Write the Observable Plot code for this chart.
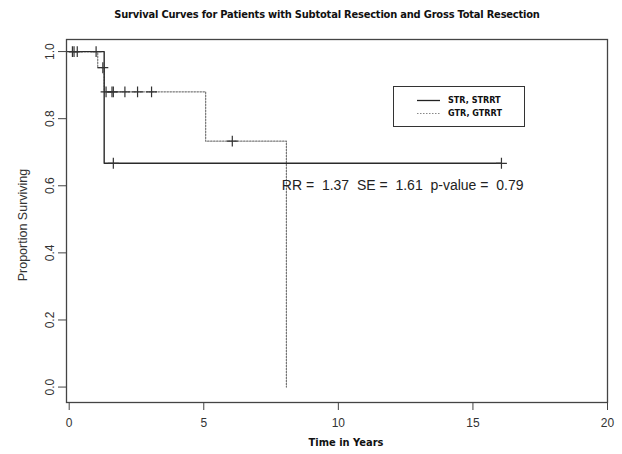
<!DOCTYPE html>
<html>
<head>
<meta charset="utf-8">
<script src="https://cdn.jsdelivr.net/npm/d3@7"></script>
<script src="https://cdn.jsdelivr.net/npm/@observablehq/plot@0.6"></script>
<style>
  html, body { margin: 0; padding: 0; background: #fff; }
  #wrap { position: relative; width: 622px; height: 454px; overflow: hidden; }
  #title { height: 28px; line-height: 30px; font-family: "Liberation Sans Narrow", "DejaVu Sans Condensed", sans-serif; font-weight: bold; font-size: 11px; letter-spacing: -0.2px; color: #111; text-align: center; padding-left: 32px; box-sizing: border-box; white-space: nowrap; }
  #legend { position: absolute; left: 393px; top: 86px; width: 132px; height: 41px; border: 1.3px solid #333; box-sizing: border-box; background: #fff; }
  #legend svg { position: absolute; left: 0; top: 0; }
  #legend .lab { position: absolute; left: 54px; font-family: "Liberation Sans Narrow", "DejaVu Sans Condensed", sans-serif; font-weight: bold; font-size: 9px; color: #111; white-space: nowrap; }
</style>
</head>
<body>
<div id="wrap">
  <div id="title">Survival Curves for Patients with Subtotal Resection and Gross Total Resection</div>
  <div id="chart"></div>
  <div id="legend">
    <svg width="132" height="41">
      <line x1="23" x2="46" y1="13.5" y2="13.5" stroke="#222" stroke-width="1.3"></line>
      <line x1="23" x2="46" y1="26.5" y2="26.5" stroke="#888" stroke-width="1.2" stroke-dasharray="1.5,1.5"></line>
    </svg>
    <div class="lab" style="top:8px">STR, STRRT</div>
    <div class="lab" style="top:21px">GTR, GTRRT</div>
  </div>
</div>
<script>
// Kaplan-Meier step curves (time in years, proportion surviving)
const strTimes = [0, 1.3, 16.06];
const strSurv  = [1.0, 0.667, 0.667];
const gtrTimes = [0, 1.06, 1.3, 5.07, 8.07];
const gtrSurv  = [1.0, 0.952, 0.88, 0.733, 0.0];

// censoring marks ("+")
const strCensorTimes = [0.3, 1.0, 1.64, 16.06];
const strCensorSurv  = [1.0, 1.0, 0.667, 0.667];
const gtrCensorTimes = [0.12, 0.18, 1.25, 1.37, 1.59, 1.64, 2.07, 2.54, 3.06, 6.06];
const gtrCensorSurv  = [1.0, 1.0, 0.952, 0.88, 0.88, 0.88, 0.88, 0.88, 0.88, 0.733];

const xTicks = [0, 5, 10, 15, 20];
const yTicks = [0.0, 0.2, 0.4, 0.6, 0.8, 1.0];
const annotationText = "RR =  1.37  SE =  1.61  p-value =  0.79";
const annotationAt = [{t: 7.9, s: 0.6}];

const toRows = (ts, ss) => ts.map((t, i) => ({t, s: ss[i]}));
const strRows = toRows(strTimes, strSurv);
const gtrRows = toRows(gtrTimes, gtrSurv);
const strCens = toRows(strCensorTimes, strCensorSurv);
const gtrCens = toRows(gtrCensorTimes, gtrCensorSurv);

const ink = "#333";
const font = "'Liberation Sans', Arial, sans-serif";

const chart = Plot.plot({
  width: 622,
  height: 426,
  marginTop: 11,
  marginBottom: 52,
  marginLeft: 66,
  marginRight: 15,
  style: {fontFamily: font, fontSize: "12px", color: ink, background: "#fff"},
  x: {domain: [-0.1, 20], axis: null},
  y: {domain: [-0.046, 1.036], axis: null},
  marks: [
    Plot.frame({stroke: "#444", strokeWidth: 1.3}),
    Plot.axisX(xTicks, {anchor: "bottom", tickSize: 8, tickPadding: 8, stroke: "#444", fill: ink, fontSize: 12, label: null, tickFormat: d => String(d)}),
    Plot.axisY(yTicks, {anchor: "left", tickSize: 8, stroke: "#444", label: null, tickFormat: () => ""}),
    Plot.text(yTicks, {y: d => d, frameAnchor: "left", dx: -16, rotate: -90, text: d => d.toFixed(1), fill: ink, fontSize: 12, textAnchor: "middle"}),
    Plot.text(["Proportion Surviving"], {frameAnchor: "left", dx: -44, dy: 4, rotate: -90, fill: ink, fontSize: 12.5, textAnchor: "middle"}),
    Plot.text(["Time in Years"], {frameAnchor: "bottom", dy: 43, dx: 9, fill: "#111", fontSize: 11, fontWeight: "bold", fontFamily: "'Liberation Sans Narrow', 'DejaVu Sans Condensed', sans-serif"}),
    Plot.line(gtrRows, {x: "t", y: "s", curve: "step-after", stroke: "#777", strokeWidth: 1.2, strokeDasharray: "1.5,1.5"}),
    Plot.line(strRows, {x: "t", y: "s", curve: "step-after", stroke: "#2a2a2a", strokeWidth: 1.4}),
    Plot.dot(gtrCens, {x: "t", y: "s", symbol: "plus", r: 3.6, stroke: "#333", strokeWidth: 1.2}),
    Plot.dot(strCens, {x: "t", y: "s", symbol: "plus", r: 3.6, stroke: "#333", strokeWidth: 1.2}),
    Plot.text(annotationAt, {x: "t", y: "s", text: d => annotationText, textAnchor: "start", fill: "#222", fontSize: 14})
  ]
});
document.getElementById("chart").appendChild(chart);
</script>
</body>
</html>
